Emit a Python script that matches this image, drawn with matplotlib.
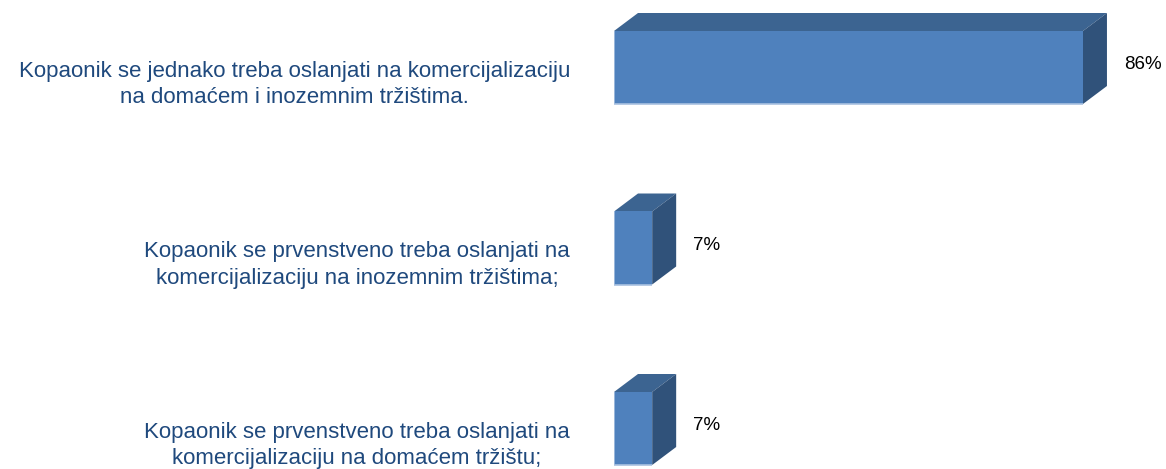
import matplotlib
matplotlib.use("Agg")
import matplotlib.pyplot as plt
import matplotlib.transforms as mtransforms
from matplotlib.patches import Polygon
from matplotlib import font_manager

categories = [
    "Kopaonik se jednako treba oslanjati na komercijalizaciju\nna domaćem i inozemnim tržištima.",
    "Kopaonik se prvenstveno treba oslanjati na\nkomercijalizaciju na inozemnim tržištima;",
    "Kopaonik se prvenstveno treba oslanjati na\nkomercijalizaciju na domaćem tržištu;",
]
values = [86, 7, 7]
value_labels = ["86%", "7%", "7%"]

W, H = 1166, 469
fig = plt.figure(figsize=(W / 100, H / 100), dpi=100)

# axes geometry in pixels
ax_left_px = 614
px_per_unit = 5.453
ax = fig.add_axes([ax_left_px / W, 0, 1 - ax_left_px / W, 1])
ax.set_xlim(0, (W - ax_left_px) / px_per_unit)
row_px = 180.5
first_px = 67.5
ax.set_ylim(2 + (H - 428.5) / row_px, -first_px / row_px)
ax.axis("off")

front = "#4F81BD"
top_c = "#3C6491"
side_c = "#30527A"
edge_light = "#A9C1E0"

bar_h = 73 / row_px
bars = ax.barh(range(len(values)), values, height=bar_h, color=front,
               edgecolor="none", zorder=3)

dx = 24 / px_per_unit
dy = 18 / row_px
for b in bars:
    x0, y0 = b.get_x(), b.get_y()
    w, h = b.get_width(), b.get_height()
    ytop = y0  # inverted axis: y0 is top edge visually
    ybot = y0 + h
    top = Polygon([(x0, ytop), (x0 + w, ytop), (x0 + w + dx, ytop - dy), (x0 + dx, ytop - dy)],
                  closed=True, facecolor=top_c, edgecolor="none", zorder=2)
    side = Polygon([(x0 + w, ytop), (x0 + w + dx, ytop - dy), (x0 + w + dx, ybot - dy), (x0 + w, ybot)],
                   closed=True, facecolor=side_c, edgecolor="none", zorder=2)
    ax.add_patch(top)
    ax.add_patch(side)
    # light edges on front face (left & bottom)
    ax.plot([x0, x0, x0 + w], [ytop, ybot, ybot], color=edge_light, lw=1.2, zorder=4,
            solid_capstyle="butt")

avail = {f.name for f in font_manager.fontManager.ttflist}
narrow = "Liberation Sans Narrow" if "Liberation Sans Narrow" in avail else "Liberation Sans"

lab_tr = mtransforms.offset_copy(ax.transData, fig=fig, x=-44, y=-17, units="dots")
for i, cat in enumerate(categories):
    ax.text(0, i, cat, transform=lab_tr, ha="right", va="center",
            multialignment="center", fontsize=16, color="#1F497D",
            family=["Liberation Sans", "DejaVu Sans"], linespacing=1.33)

val_tr = mtransforms.offset_copy(ax.transData, fig=fig, x=24 + 17, y=3, units="dots")
for i, (v, lab) in enumerate(zip(values, value_labels)):
    ax.text(v, i, lab, transform=val_tr, ha="left", va="center",
            fontsize=13.5, color="black", family=[narrow, "DejaVu Sans"])

fig.savefig("out.png", dpi=100)
